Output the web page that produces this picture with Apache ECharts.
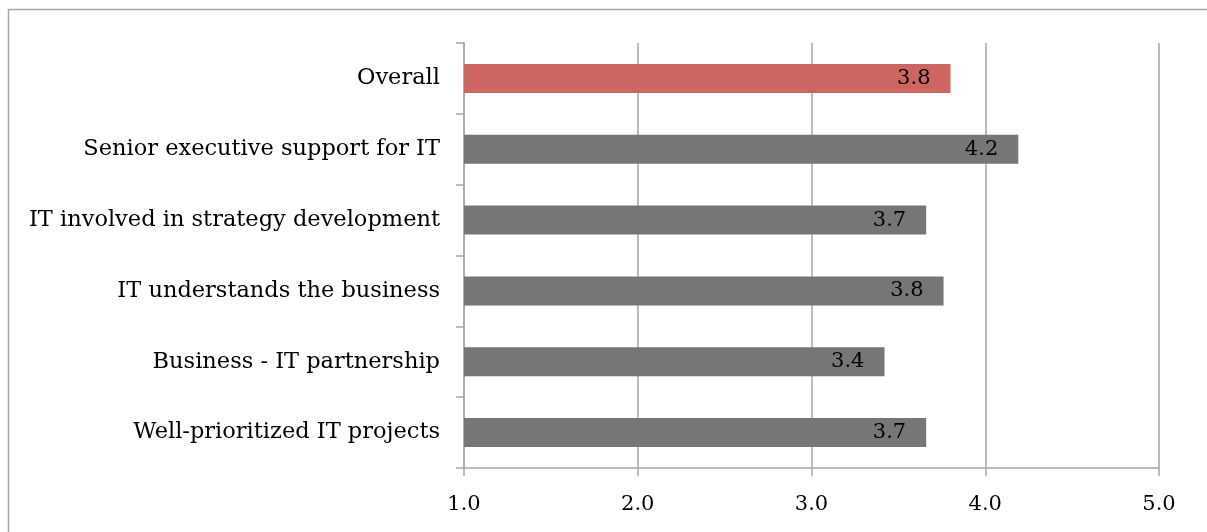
<!DOCTYPE html>
<html>
<head>
<meta charset="utf-8">
<script src="https://cdn.jsdelivr.net/npm/echarts@6/dist/echarts.min.js"></script>
<style>html,body{margin:0;padding:0;background:#fff}#c{width:1207px;height:532px}</style>
</head>
<body>
<div id="c"></div>
<script>
const categories = ["Well-prioritized IT projects","Business - IT partnership","IT understands the business","IT involved in strategy development","Senior executive support for IT","Overall"];
const values = [3.66, 3.42, 3.76, 3.66, 4.19, 3.80];
const labels = ["3.7","3.4","3.8","3.7","4.2","3.8"];
const highlight = "Overall";
const xTicks = [1, 2, 3, 4, 5];

const FONT = "'DejaVu Serif', 'Liberation Serif', serif";
const chart = echarts.init(document.getElementById('c'), null, {renderer:'canvas'});
chart.setOption({
  animation:false,
  backgroundColor:'#fff',
  graphic:[{type:'rect', shape:{x:8.5,y:9.5,width:1400,height:800}, style:{fill:'none',stroke:'#a6a6a6',lineWidth:1.5}, silent:true}],
  grid:{left:464, right:48, top:43, bottom:64, containLabel:false},
  xAxis:{type:'value', min:xTicks[0], max:xTicks[xTicks.length-1], interval:1,
    axisLine:{show:true, lineStyle:{color:'#a6a6a6', width:1.5}},
    axisTick:{show:true, length:8, lineStyle:{color:'#a6a6a6', width:1.5}},
    splitLine:{show:true, lineStyle:{color:'#a6a6a6', width:1.5}},
    axisLabel:{formatter:v=>v.toFixed(1), color:'#000', fontFamily:FONT, fontSize:21, margin:26}},
  yAxis:{type:'category', data:categories,
    axisLine:{show:true, lineStyle:{color:'#a6a6a6', width:1.5}},
    axisTick:{show:true, length:8, lineStyle:{color:'#a6a6a6', width:1.5}},
    axisLabel:{color:'#000', fontFamily:FONT, fontSize:22.5, margin:24, padding:[6,0,0,0]}},
  series:[{type:'bar', barCategoryGap:'59%',
    data: values.map((v,i)=>({value:v, itemStyle:{color: categories[i]===highlight ? '#cd6660' : '#767676'}})),
    label:{show:true, position:'insideRight', distance:20, formatter:p=>labels[p.dataIndex], color:'#000', fontFamily:FONT, fontSize:21, padding:[5,0,0,0]}
  }]
});
</script>
</body>
</html>
